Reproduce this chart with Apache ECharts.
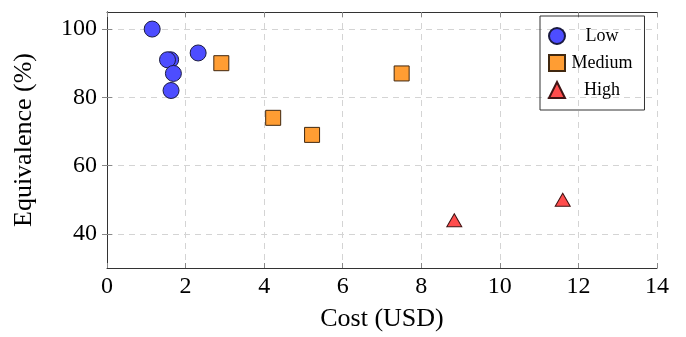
<!DOCTYPE html>
<html>
<head>
<meta charset="utf-8">
<script src="https://cdn.jsdelivr.net/npm/echarts@6/dist/echarts.min.js"></script>
<style>html,body{margin:0;padding:0;background:#fff;}#c{width:686px;height:337px;}</style>
</head>
<body>
<div id="c"></div>
<script>
const lowData = [[1.15, 100], [1.62, 91], [1.54, 91], [1.69, 87], [1.63, 82], [2.32, 93]];
const mediumData = [[2.91, 90], [4.23, 74], [5.22, 69], [7.5, 87]];
const highData = [[8.84, 44], [11.6, 50]];
const xTicks = [0, 2, 4, 6, 8, 10, 12, 14];
const yTicks = [40, 60, 80, 100];
const seriesNames = ['Low', 'Medium', 'High'];

const font = 'Liberation Serif';
const axisColor = '#333';
const gridLine = { show: true, lineStyle: { color: '#d4d4d4', type: [6, 5], width: 1 } };

const chart = echarts.init(document.getElementById('c'));
chart.setOption({
  animation: false,
  textStyle: { fontFamily: font },
  grid: { left: 107, right: 29, top: 12, bottom: 68 },
  legend: {
    orient: 'vertical',
    left: 540,
    top: 16,
    padding: [11, 12, 11, 8],
    itemGap: 9,
    itemWidth: 16,
    itemHeight: 16,
    borderColor: '#333',
    borderWidth: 1,
    borderRadius: 0,
    data: [
      { name: 'Low', icon: 'circle' },
      { name: 'Medium', icon: 'rect' },
      { name: 'High', icon: 'triangle' }
    ],
    formatter: n => '{a|' + n + '}',
    textStyle: {
      fontFamily: font, fontSize: 18, color: '#000',
      rich: { a: { fontFamily: font, fontSize: 18, color: '#000', width: 64, align: 'center' } }
    }
  },
  xAxis: [{
    type: 'value', min: 0, max: 14, interval: 2,
    name: 'Cost (USD)', nameLocation: 'middle', nameGap: 38,
    nameTextStyle: { fontFamily: font, fontSize: 26, color: '#000' },
    axisLine: { show: true, lineStyle: { color: axisColor } },
    axisTick: { show: true, inside: true, length: 5, lineStyle: { color: '#888' }, customValues: xTicks },
    axisLabel: { fontFamily: font, fontSize: 24, color: '#000', margin: 7, customValues: xTicks },
    splitLine: gridLine
  }, {
    type: 'value', min: 0, max: 14, interval: 2, position: 'top',
    axisLine: { show: true, lineStyle: { color: axisColor } },
    axisTick: { show: true, inside: true, length: 5, lineStyle: { color: '#888' } },
    axisLabel: { show: false },
    splitLine: { show: false }
  }],
  yAxis: [{
    type: 'value', min: 30, max: 105,
    name: 'Equivalence (%)', nameLocation: 'middle', nameGap: 70,
    nameTextStyle: { fontFamily: font, fontSize: 26, color: '#000' },
    axisLine: { show: true, lineStyle: { color: axisColor } },
    axisTick: { show: true, inside: true, length: 5, lineStyle: { color: '#888' }, customValues: yTicks },
    axisLabel: { fontFamily: font, fontSize: 24, color: '#000', margin: 10, customValues: yTicks },
    splitLine: gridLine
  }, {
    type: 'value', min: 30, max: 105, position: 'right',
    axisLine: { show: true, lineStyle: { color: axisColor } },
    axisTick: { show: true, inside: true, length: 5, lineStyle: { color: '#888' }, customValues: yTicks },
    axisLabel: { show: false, customValues: yTicks },
    splitLine: { show: false }
  }],
  series: [
    { name: seriesNames[0], type: 'scatter', data: lowData, symbol: 'circle', symbolSize: 16,
      itemStyle: { color: '#4d4dff', borderColor: '#1a1a40', borderWidth: 1, opacity: 1 } },
    { name: seriesNames[1], type: 'scatter', data: mediumData, symbol: 'rect', symbolSize: 15,
      itemStyle: { color: '#ff9d33', borderColor: '#402810', borderWidth: 1, opacity: 1 } },
    { name: seriesNames[2], type: 'scatter', data: highData, symbol: 'triangle', symbolSize: [15, 13],
      itemStyle: { color: '#ff4d4d', borderColor: '#401414', borderWidth: 1, opacity: 1 } }
  ]
});
</script>
</body>
</html>
